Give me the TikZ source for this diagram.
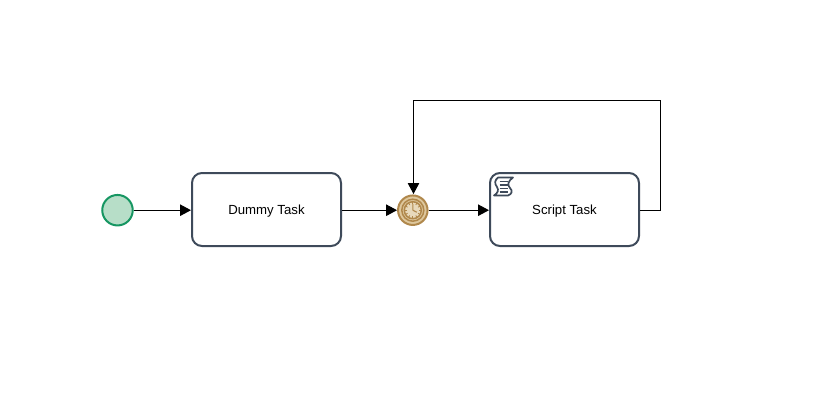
\documentclass[tikz,border=0pt]{standalone}
\usepackage{fontspec}
\setmainfont{Liberation Sans}
\definecolor{bpmnslate}{RGB}{62,74,90}
\definecolor{bpmngreen}{RGB}{22,150,98}
\definecolor{bpmnmint}{RGB}{183,222,200}
\definecolor{bpmnbrown}{RGB}{176,136,76}
\definecolor{bpmnsand}{RGB}{222,200,158}
\usetikzlibrary{arrows.meta,positioning,calc}
\begin{document}
\begin{tikzpicture}[x=1pt, y=-1pt, every node/.style={font=\fontsize{13.2}{15}\selectfont},
  taskbox/.style={rounded corners=10pt, draw=bpmnslate, fill=white, minimum width=149pt, minimum height=73pt, align=center, line width=2pt, inner sep=0pt, text depth=0pt},
  flow/.style={-{Triangle[length=11pt,width=11.5pt]}, line width=1pt, black},
  timerring/.style={draw=bpmnbrown, line width=1.5pt, fill=none}]
\useasboundingbox (0,0) rectangle (823,418);
% Start event
\node[circle, draw=bpmngreen, fill=bpmnmint, line width=2pt, minimum size=30.5pt, inner sep=0pt] (start) at (117.5,210.2) {};
% Tasks
\node[taskbox] (dummy) at (266.5,209.5) {Dummy Task};
\node[taskbox] (script) at (564.5,209.5) {Script Task};
% Timer event
\node[circle, draw=bpmnbrown, fill=bpmnsand, line width=2pt, minimum size=29.5pt, inner sep=0pt] (timer) at (412.8,210.2) {};
\draw[timerring] (timer.center) circle (11);
\draw[timerring, fill=bpmnsand!70] (timer.center) circle (8.5);
\foreach \a in {0,30,...,330}
  \draw[bpmnbrown, line width=0.8pt] ($(timer.center)+(\a:6)$) -- ($(timer.center)+(\a:8)$);
\draw[bpmnbrown, line width=1.1pt] (timer.center) -- ++(0,-6) (timer.center) -- ++(4,2);
% Script icon
\draw[bpmnslate, line width=1.7pt, line join=round, fill=white] (498,177.5) -- (513,177.5)
  .. controls (508,181) and (507,185) .. (510,188)
  .. controls (513,191) and (512,194) .. (508,195.5) -- (494,195.5)
  .. controls (498,193) and (499,190) .. (497,187)
  .. controls (494,183) and (495,180) .. (498,177.5) -- cycle;
\foreach \y in {181.5,185,188.5,192}
  \draw[bpmnslate, line width=1.4pt] (499.5,\y) -- ++(8,0);
% Flows
\coordinate (loopright) at (660.5,210.5);
\coordinate (looptop) at (660.5,100.5);
\coordinate (loopleft) at (413.5,100.5);
\coordinate (loopend) at (413.5,194);
\draw[flow] (start) -- (dummy.west |- start);
\draw[flow] (dummy.east |- timer) -- (timer);
\draw[flow] (timer) -- (script.west |- timer);
\draw[flow] (script.east |- loopright) -- (loopright) -- (looptop) -- (loopleft) -- (loopend);
\end{tikzpicture}
\end{document}
